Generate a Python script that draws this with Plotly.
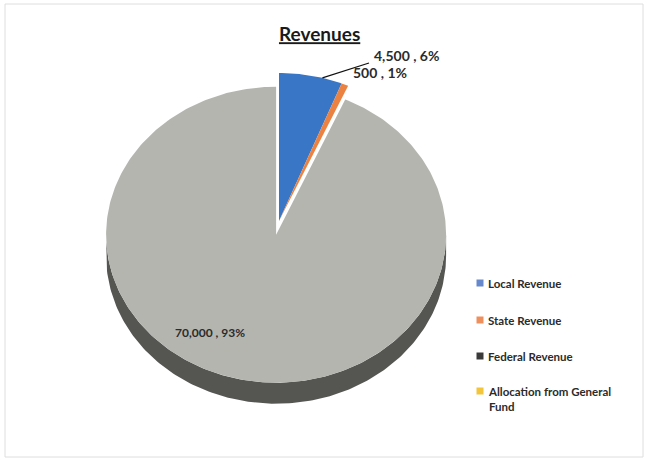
import numpy as np
import plotly.graph_objects as go

# Revenue breakdown
categories = ["Local Revenue", "State Revenue", "Federal Revenue", "Allocation from General Fund"]
legend_labels = ["Local Revenue", "State Revenue", "Federal Revenue", "Allocation from General<br>Fund"]
values = [4500, 500, 70000, 0]
slice_colors = ["#3A76C6", "#EC8241", "#B5B5B0", "#F4C02A"]
key_colors = ["#6688CC", "#EE905E", "#3A3A3A", "#F2C53A"]

W, H = 647, 461
CX, CY = 279, 221          # pie centre (screen px)
RX, RY = 170, 148          # elliptical top face (tilted pie)
DEPTH = 21                 # extruded side thickness
EXPLODE = {2: 14}          # slice index -> offset px
SIDE_COLOR = "#555552"
FONT = "Lato"

total = sum(values)
fracs = [v / total for v in values]
starts = np.cumsum([0] + fracs[:-1]) * 360
ends = starts + np.array(fracs) * 360


def centre_of(i):
    off = EXPLODE.get(i, 0)
    mid = np.radians((starts[i] + ends[i]) / 2)
    return CX + off * np.sin(mid), CY - off * np.cos(mid)


def arc(cx, cy, a0, a1, dy=0):
    t = np.radians(np.linspace(a0, a1, max(int(abs(a1 - a0)) + 2, 3)))
    return cx + RX * np.sin(t), cy - RY * np.cos(t) + dy


fig = go.Figure()

# extruded side, visible on the front half of each slice
for i, v in enumerate(values):
    if v <= 0:
        continue
    a0, a1 = max(starts[i], 90), min(ends[i], 270)
    if a1 <= a0:
        continue
    cx, cy = centre_of(i)
    xt, yt = arc(cx, cy, a0, a1)
    xb, yb = arc(cx, cy, a0, a1, dy=DEPTH)
    fig.add_trace(go.Scatter(
        x=np.concatenate([xt, xb[::-1], xt[:1]]),
        y=np.concatenate([yt, yb[::-1], yt[:1]]),
        fill="toself", fillcolor=SIDE_COLOR, mode="lines",
        line=dict(width=0), hoverinfo="skip", showlegend=False))

# top faces of the slices
for i, v in enumerate(values):
    if v <= 0:
        continue
    cx, cy = centre_of(i)
    xa, ya = arc(cx, cy, starts[i], ends[i])
    fig.add_trace(go.Scatter(
        x=np.concatenate([[cx], xa, [cx]]),
        y=np.concatenate([[cy], ya, [cy]]),
        fill="toself", fillcolor=slice_colors[i], mode="lines",
        line=dict(width=0), name=categories[i],
        hovertemplate=f"{categories[i]}: {v:,}<extra></extra>", showlegend=False))


def label_text(v):
    return f"{v:,} , {round(v / total * 100)}%"


# data labels: (x, y, font size)
label_pos = {0: (406, 55, 14), 1: (380, 72, 14), 2: (210, 332, 12)}
for i, (lx, ly, fs) in label_pos.items():
    fig.add_annotation(x=lx, y=ly, text=f"<b>{label_text(values[i])}</b>", showarrow=False,
                       font=dict(family=FONT, size=fs, color="#2B2B2B"), xanchor="center", yanchor="middle")

# leader line for the Local Revenue label
mid0 = (starts[0] + ends[0]) / 2 + 4
mx, my = arc(*centre_of(0), mid0, mid0)
fig.add_shape(type="line", x0=mx[0], y0=my[0], x1=369, y1=63, line=dict(color="#111111", width=1.2))

# key
key_y = [283, 320, 356, 391]
fig.add_trace(go.Scatter(
    x=[480] * len(categories), y=key_y, mode="markers",
    marker=dict(symbol="square", size=7, color=key_colors), hoverinfo="skip", showlegend=False))
for lab, y in zip(legend_labels, key_y):
    fig.add_annotation(x=486, y=y - 8, text=f"<b>{lab}</b>", showarrow=False, align="left",
                       xanchor="left", yanchor="top",
                       font=dict(family=FONT, size=11.5, color="#2B2B2B"))

# frame
fig.add_shape(type="rect", x0=5, y0=4, x1=643, y1=457, line=dict(color="#DEDEDE", width=1))

fig.update_layout(
    width=W, height=H, margin=dict(l=0, r=0, t=0, b=0),
    paper_bgcolor="white", plot_bgcolor="white",
    title=dict(text="<b><u>Revenues</u></b>", x=0.494, xanchor="center", y=0.925, yanchor="middle",
               font=dict(family=FONT, size=19, color="#1A1A1A")),
    xaxis=dict(range=[0, W], visible=False, fixedrange=True),
    yaxis=dict(range=[H, 0], visible=False, fixedrange=True),
    showlegend=False,
)

fig.write_html("out.html")
